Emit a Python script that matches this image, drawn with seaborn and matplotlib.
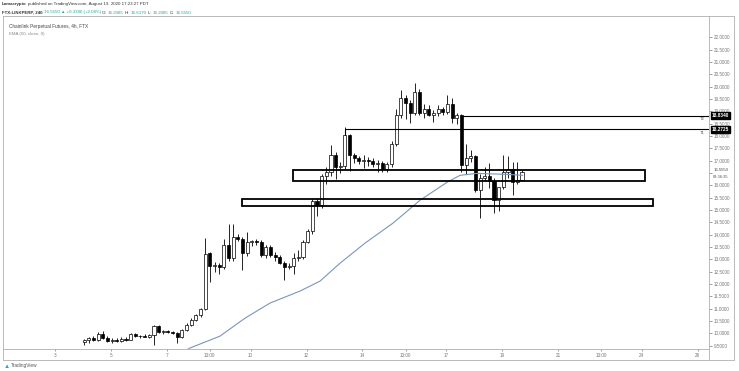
import numpy as np
import matplotlib
matplotlib.use("Agg")
import matplotlib.pyplot as plt
from matplotlib.patches import Rectangle
import seaborn as sns

FIG_W, FIG_H = 739, 371

# 4h bars, first visible bar is Aug 4 01:00 PDT, x axis = day of August
FIRST_BAR = 4 + 1 / 24
BAR = 1 / 6

opens = [9.65, 9.72, 9.80, 9.74, 9.98, 9.82, 9.70, 9.73, 9.70, 9.78,
         9.75, 9.97, 9.88, 9.90, 9.86, 9.92, 10.30, 10.05, 10.08, 10.04,
         10.02, 9.84, 10.14, 10.36, 10.56, 10.74, 10.98, 13.25, 12.73, 12.78,
         12.70, 13.58, 13.05, 13.90, 13.82, 13.25, 13.70, 13.74, 13.72, 13.18,
         13.50, 13.17, 13.10, 12.85, 12.70, 12.75, 13.05, 13.10, 13.72, 14.15,
         15.35, 15.22, 16.40, 16.55, 17.22, 16.75, 16.80, 18.03, 17.22, 17.12,
         16.98, 17.05, 17.00, 16.85, 16.92, 16.68, 16.85, 17.70, 18.84, 19.55,
         19.33, 18.92, 19.78, 18.92, 19.10, 18.85, 18.95, 19.10, 18.98, 19.30,
         18.72, 18.84, 16.82, 17.10, 17.20, 15.81, 16.30, 16.38, 16.18, 15.42,
         15.92, 16.55, 16.65, 16.12, 16.2085]
highs = [9.78, 9.85, 9.90, 10.05, 10.08, 9.88, 9.80, 9.82, 9.85, 9.84,
         10.02, 10.00, 9.95, 9.98, 9.96, 10.35, 10.34, 10.12, 10.14, 10.10,
         10.06, 10.18, 10.42, 10.62, 10.80, 11.05, 13.86, 13.30, 12.90, 12.85,
         13.82, 14.45, 14.45, 14.05, 13.90, 14.10, 13.80, 13.82, 13.80, 13.60,
         13.60, 13.30, 13.20, 12.95, 12.85, 13.25, 13.40, 13.80, 14.25, 15.45,
         15.50, 16.45, 16.75, 17.63, 17.35, 16.95, 18.36, 18.10, 17.30, 17.20,
         17.25, 17.15, 17.10, 17.05, 17.00, 16.95, 17.80, 19.10, 19.85, 19.65,
         19.45, 20.14, 19.90, 19.30, 19.25, 19.05, 19.25, 19.20, 19.65, 19.55,
         18.95, 18.90, 17.70, 17.45, 17.25, 16.45, 16.75, 16.90, 16.30, 15.95,
         17.22, 17.20, 16.95, 16.95, 16.617]
lows = [9.55, 9.62, 9.70, 9.70, 9.78, 9.66, 9.62, 9.65, 9.66, 9.70,
        9.72, 9.85, 9.82, 9.84, 9.80, 9.55, 10.00, 9.98, 10.00, 9.96,
        9.60, 9.80, 10.10, 10.30, 10.50, 10.68, 10.95, 12.08, 12.50, 12.40,
        12.60, 12.95, 12.95, 13.75, 12.57, 13.15, 13.55, 13.60, 13.10, 13.05,
        13.10, 12.95, 12.80, 12.16, 12.60, 12.40, 12.95, 13.00, 13.65, 14.05,
        14.75, 15.10, 16.05, 16.40, 16.25, 16.50, 16.65, 16.60, 16.90, 16.85,
        16.70, 16.80, 16.75, 16.55, 16.55, 16.55, 16.75, 17.60, 18.75, 18.70,
        18.55, 18.85, 18.85, 18.75, 18.80, 18.56, 18.80, 18.85, 18.90, 18.55,
        18.50, 16.55, 16.45, 16.95, 15.75, 14.70, 16.20, 15.90, 14.90, 14.95,
        15.85, 16.30, 15.60, 16.05, 16.2085]
closes = [9.72, 9.80, 9.74, 9.98, 9.82, 9.70, 9.73, 9.70, 9.78, 9.75,
          9.97, 9.88, 9.90, 9.86, 9.92, 10.30, 10.05, 10.08, 10.04, 10.02,
          9.84, 10.14, 10.36, 10.56, 10.74, 10.98, 13.21, 12.73, 12.78, 12.70,
          13.58, 13.05, 13.90, 13.82, 13.25, 13.70, 13.74, 13.72, 13.18, 13.50,
          13.17, 13.10, 12.85, 12.70, 12.75, 13.05, 13.10, 13.72, 14.15, 15.35,
          15.22, 16.40, 16.55, 17.22, 16.75, 16.80, 18.03, 17.22, 17.12, 16.98,
          17.05, 17.00, 16.85, 16.92, 16.68, 16.85, 17.70, 18.84, 19.55, 19.33,
          18.92, 19.78, 18.92, 19.10, 18.85, 18.95, 19.10, 18.98, 19.30, 18.72,
          18.84, 16.82, 17.10, 17.20, 15.81, 16.30, 16.38, 16.18, 15.42, 15.92,
          16.55, 16.65, 16.12, 16.217, 16.555]

# EMA(50, close)
ema_days = [7.5, 7.83, 8.90, 9.80, 10.69, 11.77, 12.48, 13.20, 14.09, 15.09,
            16.06, 17.03, 17.49, 18.10, 19.17, 19.74]
ema_vals = [9.20, 9.41, 9.89, 10.62, 11.23, 11.72, 12.12, 12.85, 13.66, 14.47,
            15.40, 16.13, 16.41, 16.49, 16.45, 16.41]

# drawn zones: (day start, day end, low, high)
zones = [(11.52, 24.11, 16.17, 16.62), (9.69, 24.40, 15.16, 15.44)]
# horizontal target lines: (label, day start, price, vertical drop to)
targets = [("T1", 13.38, 18.2725, 18.03), ("T2", 17.53, 18.834, 18.84)]

x_tick_pos = [3, 5, 7, 8 + 13 / 24, 10, 12, 14, 15 + 13 / 24, 17, 19, 21, 22 + 13 / 24, 24, 26]
x_tick_labels = ["3", "5", "7", "13:00", "10", "12", "14", "13:00", "17", "19", "21", "13:00", "24", "26"]
y_ticks = np.arange(9.5, 22.01, 0.5)

last_price = 16.555

sns.set_style("white")
plt.rcParams["font.family"] = ["Liberation Sans", "DejaVu Sans"]

fig = plt.figure(figsize=(FIG_W / 100, FIG_H / 100), dpi=100)
fig.patch.set_facecolor("white")


def fx(px):
    return px / FIG_W


def fy(py):
    return 1 - py / FIG_H


ax = fig.add_axes([fx(3), fy(349), fx(709) - fx(3), fy(16) - fy(349)])
ax.set_xlim(1.14, 26.40)
ax.set_ylim(9.37, 22.87)

days = FIRST_BAR + BAR * np.arange(len(opens))
o = np.array(opens)
c = np.array(closes)
up = c >= o

# wicks then bodies
ax.vlines(days, lows, highs, color="black", linewidth=0.6, zorder=2)
body_bottom = np.minimum(o, c)
body_height = np.maximum(np.abs(c - o), 0.03)
ax.bar(days[up], body_height[up], bottom=body_bottom[up], width=0.11,
       color="white", edgecolor="black", linewidth=0.5, zorder=3)
ax.bar(days[~up], body_height[~up], bottom=body_bottom[~up], width=0.11,
       color="black", edgecolor="black", linewidth=0.5, zorder=3)

sns.lineplot(x=ema_days, y=ema_vals, color="#7a96bb", linewidth=0.8, ax=ax, zorder=4)

for d0, d1, lo, hi in zones:
    ax.add_patch(Rectangle((d0, lo), d1 - d0, hi - lo, fill=False,
                           edgecolor="black", linewidth=1.3, zorder=5))

for name, d0, price, drop in targets:
    ax.hlines(price, d0, 26.40, color="black", linewidth=0.8, zorder=5)
    if drop != price:
        ax.vlines(d0, drop, price, color="black", linewidth=0.8, zorder=5)
    ax.text(26.25, price - 0.06, name, fontsize=3, color="#555555",
            ha="right", va="top")
    ax.text(1.004, price, f"{price:.4f}", transform=ax.get_yaxis_transform(),
            fontsize=3.4, color="white", fontweight="bold", ha="left", va="center",
            bbox=dict(boxstyle="square,pad=0.25", facecolor="black", edgecolor="black"),
            zorder=10, clip_on=False)

# last price and bar countdown on the price scale
ax.text(1.006, last_price + 0.09, "16.5550", transform=ax.get_yaxis_transform(),
        fontsize=3.1, color="#444444", ha="left", va="center", clip_on=False,
        bbox=dict(boxstyle="square,pad=0.05", facecolor="white", edgecolor="none"), zorder=9)
ax.text(1.006, last_price - 0.22, "03:36:35", transform=ax.get_yaxis_transform(),
        fontsize=2.9, color="#555555", ha="left", va="center", clip_on=False,
        bbox=dict(boxstyle="square,pad=0.05", facecolor="white", edgecolor="none"), zorder=9)

ax.yaxis.tick_right()
ax.set_yticks(y_ticks)
ax.set_yticklabels([f"{v:.4f}" for v in y_ticks])
ax.set_xticks(x_tick_pos)
ax.set_xticklabels(x_tick_labels)
ax.tick_params(axis="y", right=True, length=2, width=0.5, pad=1.5,
               labelsize=3.3, colors="#777777")
ax.tick_params(axis="x", bottom=True, length=1.5, width=0.5, pad=1.5,
               labelsize=3.3, colors="#777777")
ax.grid(False)
for side in ["top", "left", "bottom", "right"]:
    ax.spines[side].set_color("#b0b0b0")
    ax.spines[side].set_linewidth(0.6)
ax.set_xlabel("")
ax.set_ylabel("")

# hide the tick labels that sit behind the last price labels
for lbl, v in zip(ax.get_yticklabels(), y_ticks):
    if abs(v - 16.5) < 0.01:
        lbl.set_visible(False)

# pane legend
ax.text(0.008, 0.975, "Chainlink Perpetual Futures, 4h, FTX", transform=ax.transAxes,
        fontsize=3.4, color="#444444", ha="left", va="top")
ax.text(0.008, 0.952, "EMA (50, close, 0)", transform=ax.transAxes,
        fontsize=3.2, color="#888888", ha="left", va="top")

# price / time scale borders
fig.add_artist(plt.Line2D([fx(3), fx(734)], [fy(360), fy(360)], color="#b0b0b0", linewidth=0.6))
fig.add_artist(plt.Line2D([fx(3), fx(3)], [fy(349), fy(360)], color="#b0b0b0", linewidth=0.6))
fig.add_artist(plt.Line2D([fx(734), fx(734)], [fy(16), fy(360)], color="#b0b0b0", linewidth=0.6))
fig.add_artist(plt.Line2D([fx(709), fx(734)], [fy(16), fy(16)], color="#b0b0b0", linewidth=0.6))
fig.add_artist(plt.Line2D([fx(709), fx(709)], [fy(349), fy(360)], color="#b0b0b0", linewidth=0.6))

# header lines, chained left to right
renderer = fig.canvas.get_renderer()


def chain(parts, y_px, x_px=2):
    x = fx(x_px)
    for txt, col, weight in parts:
        t = fig.text(x, fy(y_px), txt, fontsize=3.2, color=col, fontweight=weight,
                     ha="left", va="center")
        bb = t.get_window_extent(renderer=renderer)
        x += bb.width / FIG_W + fx(1.2)


dark = "#333333"
teal = "#26a69a"
chain([("Lomacrypto", dark, "bold"),
       ("published on TradingView.com, August 19, 2020 17:23:27 PDT", dark, "normal")], 4)
chain([("FTX:LINKPERP, 240", dark, "bold"),
       ("16.5550 \u25b2 +0.3380 (+2.08%)", teal, "normal"),
       ("O:", dark, "normal"), ("16.2085", teal, "normal"),
       ("H:", dark, "normal"), ("16.6170", teal, "normal"),
       ("L:", dark, "normal"), ("16.2085", teal, "normal"),
       ("C:", dark, "normal"), ("16.5550", teal, "normal")], 12.5)

# TradingView footer
fig.text(fx(4), fy(366), "\u25b2", fontsize=4.5, color="#2a9fd6", ha="left", va="center")
fig.text(fx(11), fy(366), "TradingView", fontsize=3.4, color="#555555", ha="left", va="center")

fig.savefig("out.png", dpi=100, facecolor="white")
